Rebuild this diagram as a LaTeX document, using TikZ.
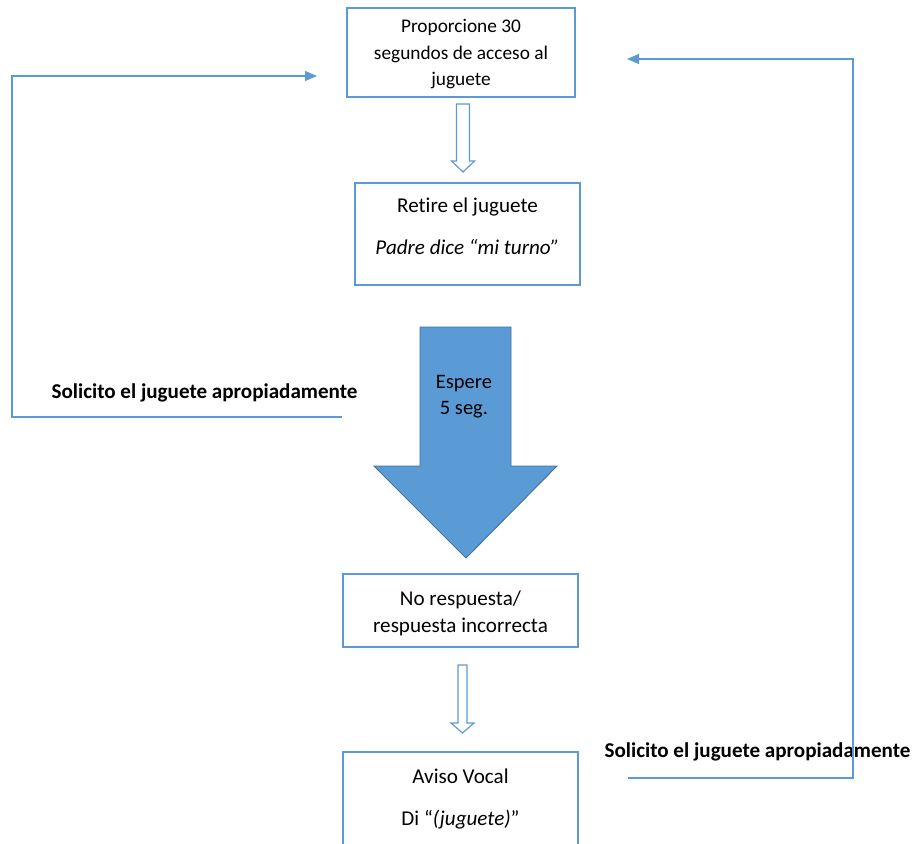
\documentclass[tikz,border=0pt]{standalone}
\usepackage{fontspec}
\setmainfont{Carlito}[Ligatures=NoCommon]
\usetikzlibrary{arrows.meta,positioning,calc}
\definecolor{flowblue}{HTML}{5B9BD5}
\definecolor{flowdark}{HTML}{41719C}
\tikzset{
  box/.style={draw=flowblue,line width=1.4pt,fill=white,align=center,inner sep=0pt,font=\fontsize{18}{23}\selectfont},
  loopline/.style={draw=flowblue,line width=1pt},
  looparrow/.style={loopline,-{Triangle[length=3.6mm,width=3mm]}},
  hollow/.style={draw=flowblue,line width=1pt,fill=white,line join=miter},
  bigarrow/.style={fill=flowblue,draw=flowdark,line width=0.8pt,line join=miter},
  lbl/.style={font=\fontsize{18}{22}\selectfont\bfseries,inner sep=0pt},
}

\begin{document}
\begin{tikzpicture}[x=0.03cm,y=-0.03cm]
  \clip (0,0) rectangle (917,844);
  % boxes
  \node[box,font=\fontsize{16.5}{22.5}\selectfont,text depth=0pt,minimum width=6.84cm,minimum height=2.67cm] (prop) at (461,52.5) {Proporcione 30\\segundos de acceso al\\juguete};
  \node[box,text depth=13pt,minimum width=6.75cm,minimum height=3.06cm] (retire) at (467.5,234) {Retire el juguete\\[12.7pt]\textit{Padre dice “mi turno”}};
  \node[box,text height=38pt,text depth=0pt,minimum width=7.05cm,minimum height=2.19cm] (noresp) at (460.5,610.5) {No respuesta/\\respuesta incorrecta};
  \node[box,minimum width=7.05cm,minimum height=2.82cm] (aviso) at (460.5,799) {Aviso Vocal\\[13.5pt]Di “\textit{(juguete)}”};
  % hollow arrows between boxes
  \foreach \x/\s/\t/\h/\e in {463/6.5/104/161/172, 462.5/4.5/665/723/733}{
    \draw[hollow] (\x-\s,\t) -- (\x+\s,\t) -- (\x+\s,\h) -- (\x+11.5,\h) -- (\x,\e)
      -- (\x-11.5,\h) -- (\x-\s,\h) -- cycle;}
  % wait arrow
  \draw[bigarrow] (420,327) -- (511,327) -- (511,466) -- (557,466) -- (466,558)
    -- (374,466) -- (420,466) -- cycle;
  \node[align=center,inner sep=0pt,font=\fontsize{17.5}{22.5}\selectfont] (wait) at (464,397) {Espere\\5 seg.};
  % feedback loops
  \node[lbl] (askL) at (204.5,393) {Solicito el juguete apropiadamente};
  \node[lbl] (askR) at (757.5,752) {Solicito el juguete apropiadamente};
  \coordinate (lstart) at (342,417);
  \coordinate (ltip) at (317,76);
  \coordinate (rstart) at (628,778);
  \coordinate (rtip) at (627,59);
  \draw[looparrow] (lstart) -- ++(-330,0) |- (ltip);
  \draw[looparrow] (rstart) -- ++(225,0) |- (rtip);
\end{tikzpicture}
\end{document}
